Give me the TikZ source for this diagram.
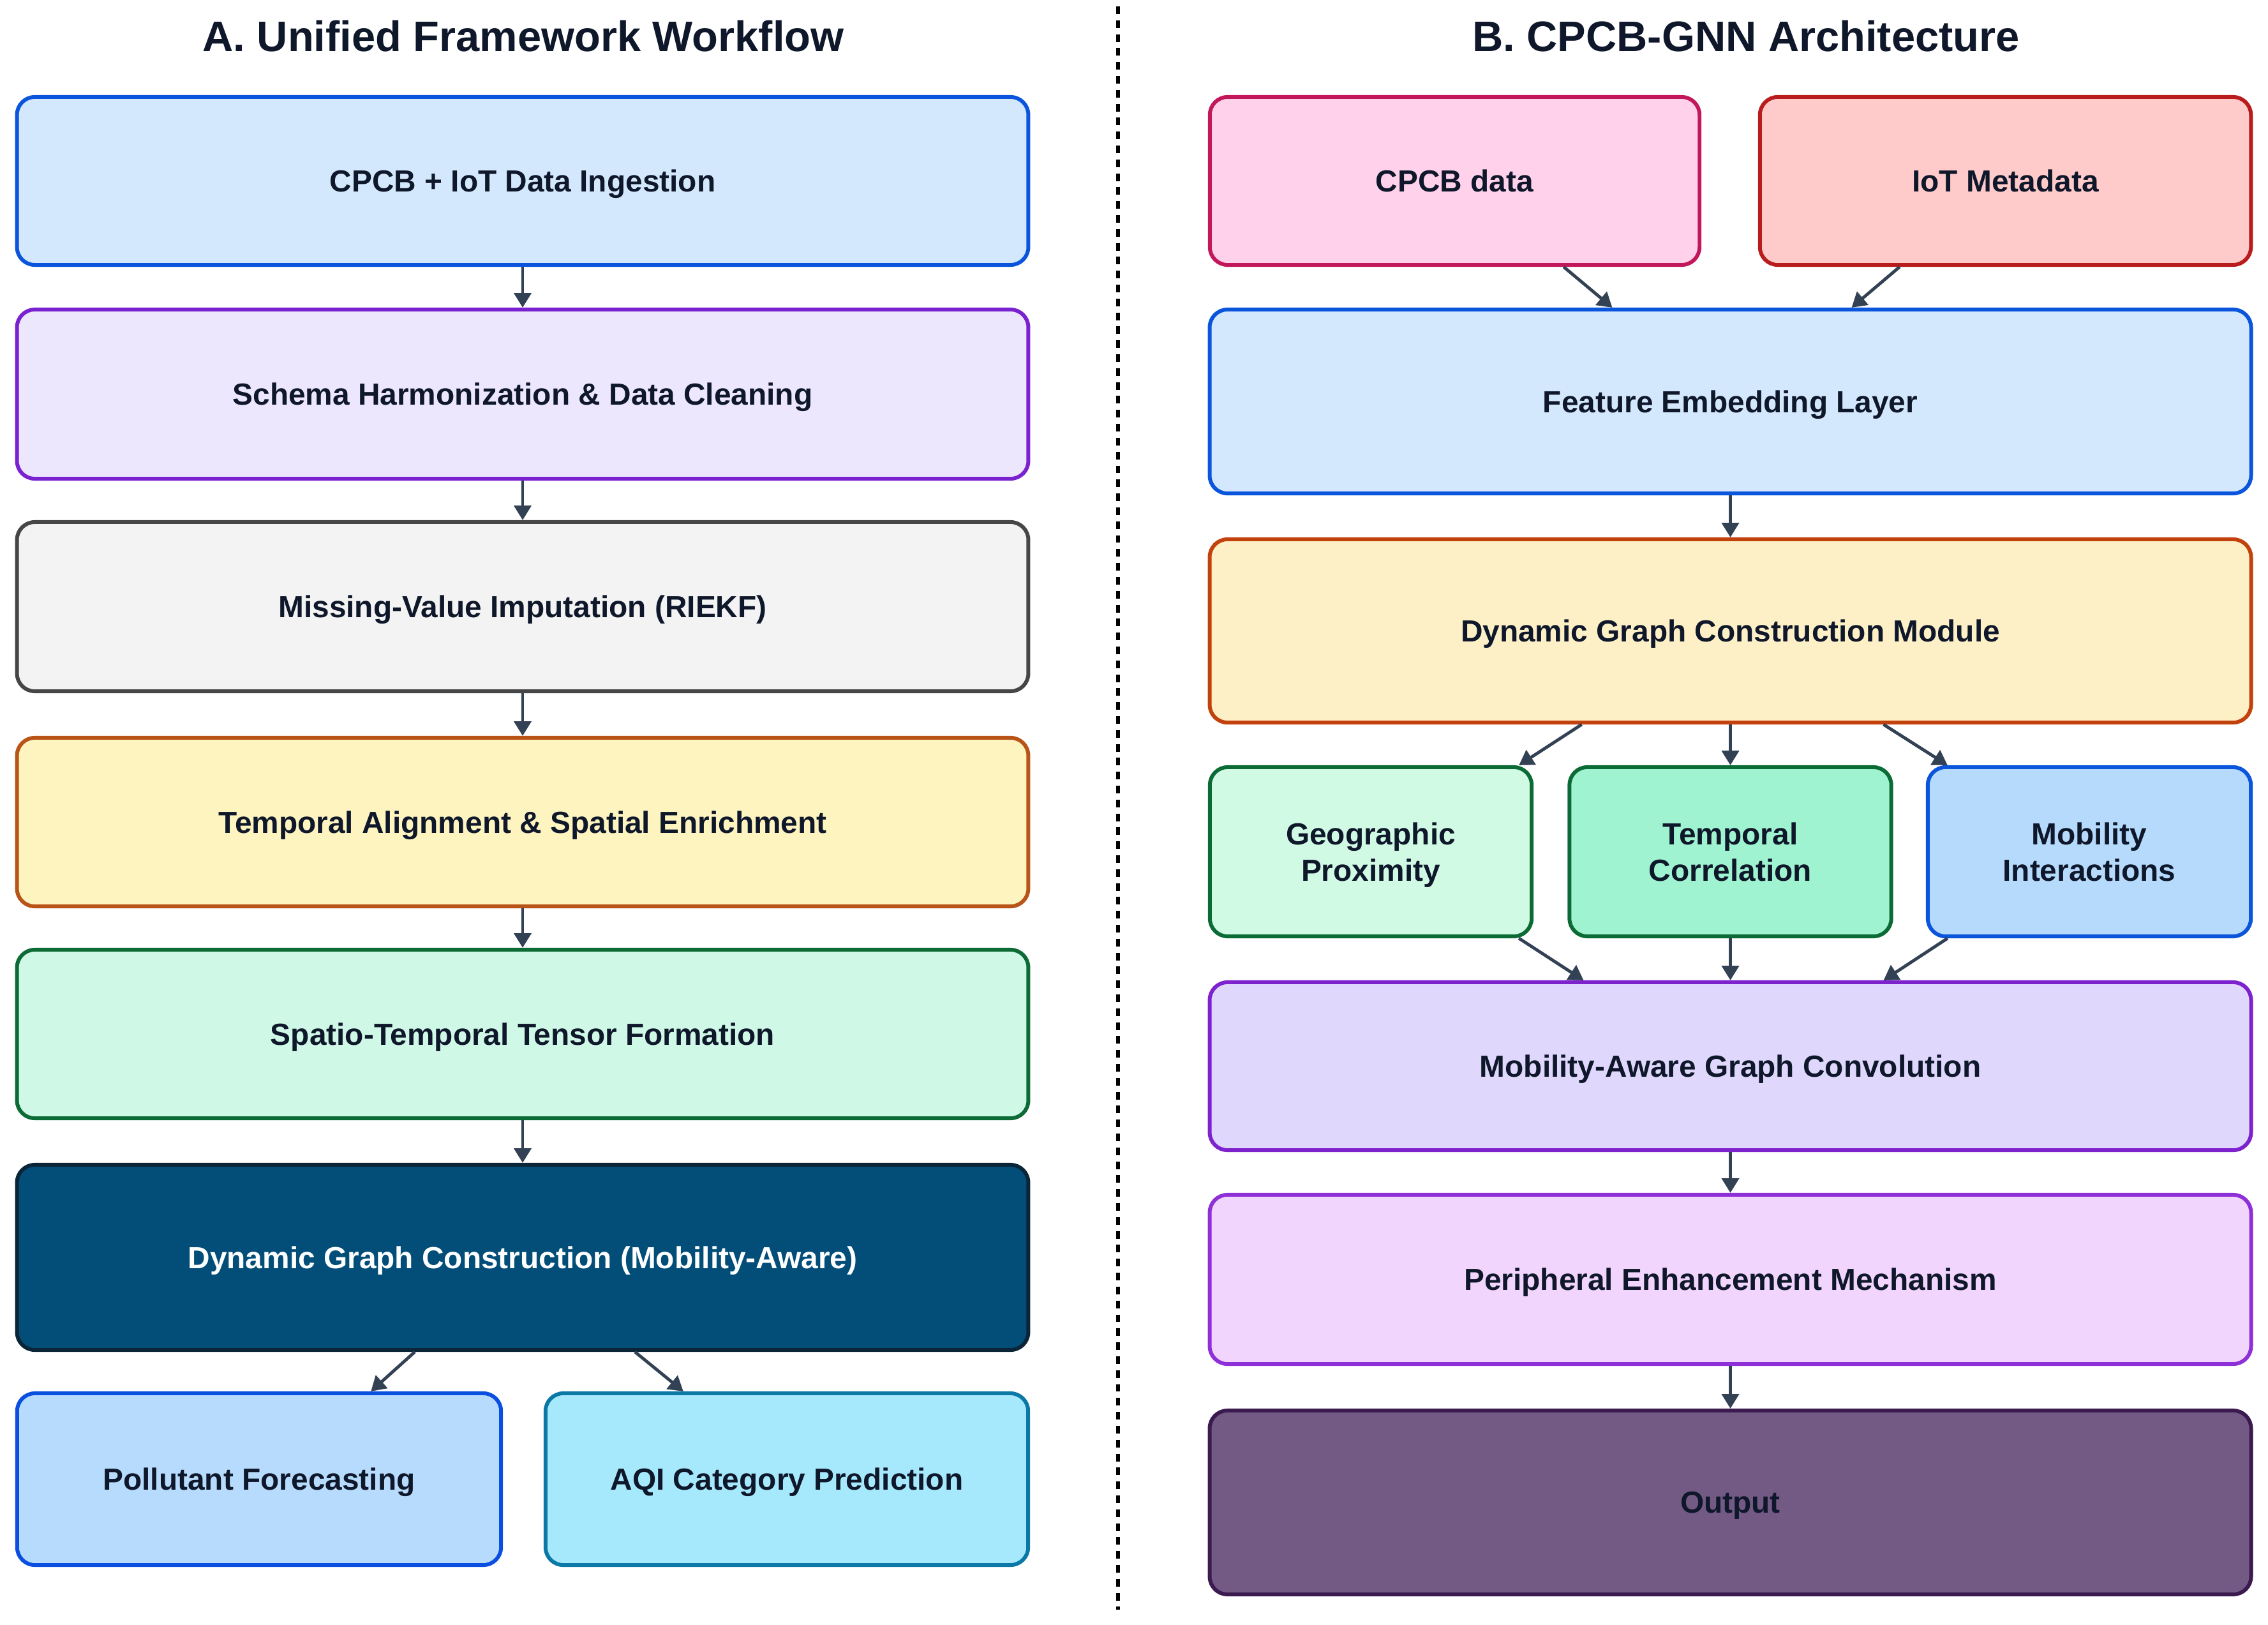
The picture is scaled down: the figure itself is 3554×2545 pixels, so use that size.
\documentclass[tikz,border=0pt]{standalone}
\usepackage{fontspec}
\setmainfont{Liberation Sans}
\usetikzlibrary{arrows.meta,calc}
\definecolor{txt}{HTML}{0F172A}
\definecolor{arrc}{HTML}{334155}
\definecolor{bluef}{HTML}{D4E8FD}\definecolor{blued}{HTML}{0A55DB}
\definecolor{lavf}{HTML}{EDE7FD}\definecolor{lavd}{HTML}{7A22D0}
\definecolor{grayf}{HTML}{F3F3F3}\definecolor{grayd}{HTML}{464646}
\definecolor{yelf}{HTML}{FEF4C0}\definecolor{yeld}{HTML}{B85418}
\definecolor{mintf}{HTML}{D0F8E6}\definecolor{mintd}{HTML}{0D6B35}
\definecolor{darkf}{HTML}{024E78}\definecolor{darkd}{HTML}{0A2538}
\definecolor{polf}{HTML}{B7DBFC}\definecolor{pold}{HTML}{0A4FE0}
\definecolor{aqif}{HTML}{A6E8FC}\definecolor{aqid}{HTML}{0B78A5}
\definecolor{pinkf}{HTML}{FFD1EA}\definecolor{pinkd}{HTML}{C2185B}
\definecolor{redf}{HTML}{FECACA}\definecolor{redd}{HTML}{B91C1C}
\definecolor{ambf}{HTML}{FEF0C6}\definecolor{ambd}{HTML}{C2410C}
\definecolor{geof}{HTML}{D1FAE5}\definecolor{geod}{HTML}{0B6B35}
\definecolor{tcf}{HTML}{A0F3D0}\definecolor{tcd}{HTML}{0B6B35}
\definecolor{mobf}{HTML}{B6DAFC}\definecolor{mobd}{HTML}{0A55DB}
\definecolor{magf}{HTML}{E0D7FD}\definecolor{magd}{HTML}{7E22CE}
\definecolor{perf}{HTML}{F2D5FD}\definecolor{perd}{HTML}{8E2FD8}
\definecolor{outf}{HTML}{735A85}\definecolor{outd}{HTML}{3B1A50}
\tikzset{
  box/.style={draw, rounded corners=0.28cm, line width=1.7pt, align=center,
    font=\fontsize{13.6}{16.3}\selectfont\bfseries, text=txt, inner sep=0pt, text depth=0pt},
  ttl/.style={font=\fontsize{19}{22}\selectfont\bfseries, text=txt},
  arr/.style={draw=arrc, line width=1.4pt, -{Triangle[length=6.5pt,width=7.6pt]}},
}
\begin{document}
\begin{tikzpicture}[x=0.01cm,y=-0.01cm]
\useasboundingbox (0,0) rectangle (3554,2545);
% titles
\node[ttl] (ta) at (820,57) {A. Unified Framework Workflow};
\node[ttl] (tb) at (2736,57) {B. CPCB-GNN Architecture};
% divider
\coordinate (d1) at (1752,10);
\coordinate (d2) at (1752,2522);
\draw[line width=1.8pt, dash pattern=on 3.4pt off 2.8pt] (d1) -- (d2);
% left column
\node[box, fill=bluef, draw=blued, minimum width=15.84cm, minimum height=2.63cm] (l1) at (819,283.5) {CPCB + IoT Data Ingestion};
\node[box, fill=lavf, draw=lavd, minimum width=15.84cm, minimum height=2.65cm] (l2) at (819,617.5) {Schema Harmonization \& Data Cleaning};
\node[box, fill=grayf, draw=grayd, minimum width=15.84cm, minimum height=2.65cm] (l3) at (819,950.5) {Missing-Value Imputation (RIEKF)};
\node[box, fill=yelf, draw=yeld, minimum width=15.84cm, minimum height=2.64cm] (l4) at (819,1288) {Temporal Alignment \& Spatial Enrichment};
\node[box, fill=mintf, draw=mintd, minimum width=15.84cm, minimum height=2.64cm] (l5) at (819,1620) {Spatio-Temporal Tensor Formation};
\node[box, fill=darkf, draw=darkd, text=white, minimum width=15.84cm, minimum height=2.90cm] (l6) at (819,1970) {Dynamic Graph Construction (Mobility-Aware)};
\node[box, fill=polf, draw=pold, minimum width=7.58cm, minimum height=2.69cm] (l7a) at (406,2317.5) {Pollutant Forecasting};
\node[box, fill=aqif, draw=aqid, minimum width=7.56cm, minimum height=2.69cm] (l7b) at (1233,2317.5) {AQI Category Prediction};
\draw[arr] (l1) -- (l2);
\draw[arr] (l2) -- (l3);
\draw[arr] (l3) -- (l4);
\draw[arr] (l4) -- (l5);
\draw[arr] (l5) -- (l6);
\draw[arr] ($(l6.south)+(-169,0)$) -- ($(l7a.north east)+(-207,0)$);
\draw[arr] ($(l6.south)+(176,0)$) -- ($(l7b.north west)+(219,0)$);
% right column
\node[box, fill=pinkf, draw=pinkd, minimum width=7.67cm, minimum height=2.63cm] (r1a) at (2279.5,283.5) {CPCB data};
\node[box, fill=redf, draw=redd, minimum width=7.69cm, minimum height=2.63cm] (r1b) at (3142.5,283.5) {IoT Metadata};
\node[box, fill=bluef, draw=blued, minimum width=16.31cm, minimum height=2.88cm] (r2) at (2711.5,629) {Feature Embedding Layer};
\node[box, fill=ambf, draw=ambd, minimum width=16.31cm, minimum height=2.87cm] (r3) at (2711.5,988.5) {Dynamic Graph Construction Module};
\node[box, fill=geof, draw=geod, minimum width=5.04cm, minimum height=2.65cm] (r4a) at (2148,1334.5) {Geographic\\Proximity};
\node[box, fill=tcf, draw=tcd, minimum width=5.04cm, minimum height=2.65cm] (r4b) at (2711.5,1334.5) {Temporal\\Correlation};
\node[box, fill=mobf, draw=mobd, minimum width=5.06cm, minimum height=2.65cm] (r4c) at (3274,1334.5) {Mobility\\Interactions};
\node[box, fill=magf, draw=magd, minimum width=16.31cm, minimum height=2.63cm] (r5) at (2711.5,1670.5) {Mobility-Aware Graph Convolution};
\node[box, fill=perf, draw=perd, minimum width=16.31cm, minimum height=2.65cm] (r6) at (2711.5,2004.5) {Peripheral Enhancement Mechanism};
\node[box, fill=outf, draw=outd, minimum width=16.31cm, minimum height=2.88cm] (r7) at (2711.5,2354) {Output};
\draw[arr] ($(r1a.south east)+(-216,0)$) -- ($(r2.north)+(-185,0)$);
\draw[arr] ($(r1b.south west)+(222,0)$) -- ($(r2.north)+(190,0)$);
\draw[arr] (r2) -- (r3);
\draw[arr] ($(r3.south)+(-233,0)$) -- ($(r4a.north east)+(-23,0)$);
\draw[arr] (r3.south) -- (r4b.north);
\draw[arr] ($(r3.south)+(240,0)$) -- ($(r4c.north west)+(34,0)$);
\draw[arr] ($(r4a.south east)+(-23,0)$) -- ($(r5.north)+(-230,0)$);
\draw[arr] (r4b.south) -- (r5.north);
\draw[arr] ($(r4c.south west)+(34,0)$) -- ($(r5.north)+(240,0)$);
\draw[arr] (r5) -- (r6);
\draw[arr] (r6) -- (r7);
\end{tikzpicture}
\end{document}
